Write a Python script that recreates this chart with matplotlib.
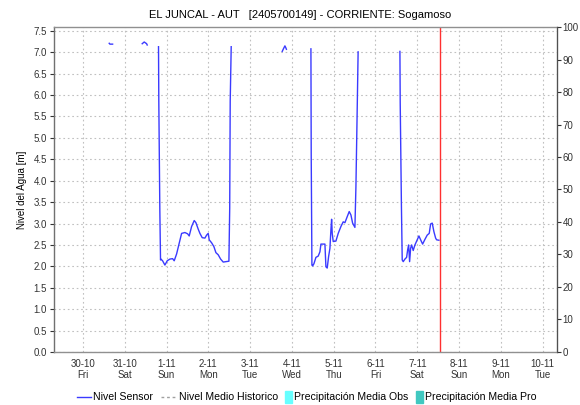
import matplotlib.pyplot as plt
from matplotlib.lines import Line2D
from matplotlib.patches import Rectangle
import numpy as np

plt.rcParams['font.family'] = ['Liberation Sans', 'DejaVu Sans']

# hours counted from 30-10 00:00, level in metres; each segment is a block of data without gaps
seg_t = [
    [15.1, 15.5, 17.05],
    [34.05, 35.2, 36.58, 36.92],
    [43.41, 43.58, 44.16, 44.56, 44.79, 45.76, 47.08, 48.41, 49.96, 51.51, 52.42, 53.80,
     55.29, 56.67, 58.56, 60.12, 61.03, 62.41, 63.91, 64.88, 66.20, 67.18, 68.50, 70.05,
     71.03, 71.95, 72.52, 73.90, 75.22, 76.37, 77.69, 79.07, 80.56, 82.11, 83.83, 84.29,
     84.58, 85.15],
    [114.44, 115.24, 115.99, 116.56, 116.85],
    [130.92, 131.09, 131.49, 131.89, 132.64, 133.79, 135.11, 136.09, 136.66, 137.64, 138.96,
     139.53, 140.28, 141.08, 141.83, 142.40, 142.80, 143.15, 143.72, 145.27, 146.59, 148.14,
     149.46, 150.44, 151.76, 152.91, 153.89, 154.86, 156.18, 156.76, 157.62, 158.02],
    [182.02, 182.19, 182.88, 183.34, 183.92, 184.89, 185.87, 186.44, 187.02, 187.59, 188.16,
     188.74, 189.66, 190.63, 191.96, 192.93, 193.91, 195.06, 196.38, 197.70, 198.85, 199.65,
     200.57, 201.54, 202.52, 203.09, 204.42],
]
seg_v = [
    [7.21, 7.19, 7.19],
    [7.20, 7.24, 7.20, 7.17],
    [7.13, 5.86, 3.34, 2.15, 2.17, 2.13, 2.03, 2.13, 2.17, 2.18, 2.13, 2.29,
     2.54, 2.77, 2.79, 2.76, 2.71, 2.93, 3.07, 3.02, 2.87, 2.77, 2.67, 2.66,
     2.73, 2.77, 2.62, 2.55, 2.46, 2.32, 2.27, 2.17, 2.10, 2.11, 2.12, 3.36,
     5.86, 7.13],
    [7.02, 7.09, 7.15, 7.10, 7.07],
    [7.08, 4.60, 2.03, 2.01, 2.06, 2.21, 2.24, 2.34, 2.52, 2.52, 2.52,
     1.99, 1.96, 2.23, 2.42, 2.85, 3.10, 2.77, 2.58, 2.59, 2.77, 2.93,
     3.04, 3.02, 3.16, 3.28, 3.20, 3.01, 2.91, 3.86, 5.98, 7.01],
    [7.02, 5.82, 3.43, 2.15, 2.11, 2.17, 2.21, 2.38, 2.50, 2.11, 2.42,
     2.50, 2.37, 2.50, 2.62, 2.71, 2.62, 2.52, 2.63, 2.73, 2.77, 2.99,
     3.01, 2.81, 2.66, 2.62, 2.61],
]
now_hour = 205.0

day_labels = ['30-10\nFri', '31-10\nSat', '1-11\nSun', '2-11\nMon', '3-11\nTue', '4-11\nWed',
              '5-11\nThu', '6-11\nFri', '7-11\nSat', '8-11\nSun', '9-11\nMon', '10-11\nTue']
day_ticks = [24 * i for i in range(len(day_labels))]

fig = plt.figure(figsize=(5.8, 4.05), dpi=100)
ax = fig.add_axes([0.0931, 0.1309, 0.8672, 0.8024])

for t, v in zip(seg_t, seg_v):
    ax.plot(t, v, color='#3a3aff', lw=1.0)
ax.axvline(now_hour, color='#ff3030', lw=1.0)

ax.set_xlim(-16.6, 272.2)
ax.set_ylim(0, 7.59)
ax.set_yticks(np.arange(0, 7.51, 0.5))
ax.set_yticklabels(['%.1f' % v for v in np.arange(0, 7.51, 0.5)])
ax.set_xticks(day_ticks)
ax.set_xticklabels(day_labels, linespacing=1.1)
ax.grid(True, color='#c0c0c0', linestyle=(0, (1.5, 2.5)), lw=0.8)
ax.tick_params(axis='both', labelsize=7, colors='#333333', length=3, width=0.8)
ax.tick_params(axis='y', pad=2)
ax.tick_params(axis='x', length=0, pad=5)
for s in ax.spines.values():
    s.set_color('#909090')
    s.set_linewidth(1.0)
ax.spines['left'].set_color('#707070')
ax.set_ylabel('Nivel del Agua [m]', fontsize=7, labelpad=5)

ax2 = ax.twinx()
ax2.set_ylim(0, 100)
ax2.set_yticks(range(0, 101, 10))
ax2.tick_params(axis='y', labelsize=7, colors='#333333', length=3, width=0.8, pad=1)
ax2.spines['right'].set_color('#505050')
for k in ['top', 'left', 'bottom']:
    ax2.spines[k].set_visible(False)

fig.text(0.517, 0.963, 'EL JUNCAL - AUT   [2405700149] - CORRIENTE: Sogamoso',
         ha='center', va='center', fontsize=8)

# legend row at the bottom
ly = 1 - 397 / 405
fs = 7.6
fig.add_artist(Line2D([77 / 580, 91 / 580], [ly, ly], color='#3a3aff', lw=1.0))
fig.text(93 / 580, ly, 'Nivel Sensor', fontsize=fs, va='center')
fig.add_artist(Line2D([161 / 580, 175 / 580], [ly, ly], color='#a0a0a0', lw=1.0,
                      linestyle=(0, (2, 2))))
fig.text(179 / 580, ly, 'Nivel Medio Historico', fontsize=fs, va='center')
fig.add_artist(Rectangle((285 / 580, ly - 6 / 405), 7 / 580, 12 / 405, color='#66ffff'))
fig.text(294 / 580, ly, 'Precipitación Media Obs', fontsize=fs, va='center')
fig.add_artist(Rectangle((416 / 580, ly - 6 / 405), 7 / 580, 12 / 405, color='#40c8c0'))
fig.text(425 / 580, ly, 'Precipitación Media Pro', fontsize=fs, va='center')

fig.savefig('out.png', dpi=100)
